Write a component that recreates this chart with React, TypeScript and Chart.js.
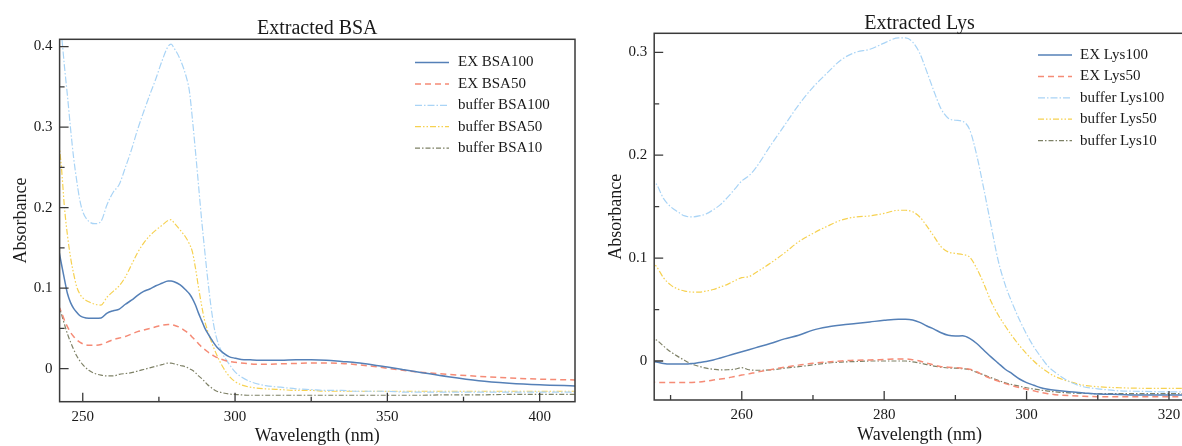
import React, { useEffect, useRef } from 'react';
import { Chart, registerables } from 'chart.js';

Chart.register(...registerables);

// ---------- Extracted BSA ----------
const bsaWavelength = [242, 243, 244, 245, 246, 247, 248, 249, 250,
  252, 254, 256, 258, 260, 262, 264, 266, 268, 270, 272, 274, 276, 278,
  279, 280, 282, 284,
  285, 286, 287, 288, 289, 290, 291, 292, 293, 294,
  296, 298, 300, 302,
  305, 310, 315, 320, 325, 330, 335, 340, 345, 350, 355, 360,
  370, 380, 390, 400, 412];
const bsaEx100 = [0.15, 0.13, 0.111, 0.093, 0.082, 0.075, 0.07, 0.066, 0.064,
  0.0625, 0.0625, 0.063, 0.069, 0.072, 0.074, 0.08, 0.085, 0.091, 0.096, 0.099, 0.103, 0.106, 0.109,
  0.109, 0.108, 0.104, 0.097,
  0.093, 0.087, 0.079, 0.069, 0.06, 0.051, 0.044, 0.038, 0.032, 0.027,
  0.02, 0.015, 0.013, 0.0115,
  0.011, 0.0105, 0.0105, 0.011, 0.011, 0.0105, 0.009, 0.0075, 0.005, 0.002, -0.001, -0.004,
  -0.01, -0.015, -0.018, -0.02, -0.0215];
const bsaEx50 = [0.078, 0.07, 0.06, 0.052, 0.045, 0.04, 0.036, 0.033, 0.031,
  0.029, 0.029, 0.03, 0.033, 0.036, 0.038, 0.04, 0.043, 0.046, 0.048, 0.05, 0.052, 0.054, 0.055,
  0.055, 0.054, 0.051, 0.046,
  0.043, 0.039, 0.035, 0.031, 0.027, 0.024, 0.021, 0.018, 0.016, 0.014,
  0.011, 0.009, 0.008, 0.007,
  0.006, 0.0055, 0.006, 0.0065, 0.007, 0.007, 0.0065, 0.005, 0.003, 0.0005, -0.002, -0.004,
  -0.007, -0.0095, -0.0115, -0.013, -0.014];
const bsaBuffer100 = [0.44, 0.415, 0.375, 0.338, 0.298, 0.262, 0.234, 0.21, 0.195,
  0.183, 0.18, 0.183, 0.204, 0.219, 0.229, 0.25, 0.272, 0.297, 0.319, 0.34, 0.36, 0.382, 0.4,
  0.403, 0.398, 0.384, 0.362,
  0.345, 0.31, 0.27, 0.228, 0.186, 0.148, 0.112, 0.08, 0.054, 0.037,
  0.018, 0.006, -0.004, -0.01,
  -0.016, -0.021, -0.023, -0.025, -0.026, -0.027, -0.027, -0.028, -0.028, -0.028, -0.029, -0.029,
  -0.029, -0.029, -0.029, -0.029, -0.029];
const bsaBuffer50 = [0.285, 0.25, 0.2, 0.165, 0.138, 0.118, 0.102, 0.093, 0.088,
  0.083, 0.08, 0.079, 0.089, 0.096, 0.103, 0.114, 0.129, 0.144, 0.156, 0.165, 0.172, 0.178, 0.184,
  0.185, 0.181, 0.172, 0.162,
  0.155, 0.145, 0.125, 0.101, 0.079, 0.06, 0.047, 0.036, 0.026, 0.017,
  0.002, -0.009, -0.016, -0.02,
  -0.023, -0.025, -0.026, -0.027, -0.027, -0.028, -0.028, -0.028, -0.028, -0.028, -0.028, -0.028,
  -0.028, -0.028, -0.028, -0.028, -0.028];
const bsaBuffer10 = [0.08, 0.068, 0.055, 0.043, 0.033, 0.024, 0.016, 0.01, 0.005,
  -0.002, -0.006, -0.008, -0.009, -0.009, -0.007, -0.006, -0.005, -0.003, -0.001, 0.001, 0.003, 0.005, 0.007,
  0.007, 0.006, 0.004, 0.002,
  0.0, -0.002, -0.005, -0.009, -0.012, -0.016, -0.02, -0.023, -0.026, -0.028,
  -0.03, -0.0315, -0.032, -0.0325,
  -0.033, -0.033, -0.033, -0.033, -0.033, -0.033, -0.033, -0.033, -0.033, -0.033, -0.033, -0.033,
  -0.0325, -0.0325, -0.032, -0.032, -0.032];
const bsaXTicks = [250, 300, 350, 400];
const bsaXMinor = [275, 325, 375];
const bsaYTicks = [0, 0.1, 0.2, 0.3, 0.4];
const bsaYMinor = [0.05, 0.15, 0.25, 0.35];
const bsaLabels = ['EX BSA100', 'EX BSA50', 'buffer BSA100', 'buffer BSA50', 'buffer BSA10'];

// ---------- Extracted Lys ----------
const lysWavelength = [247, 248, 249, 250, 251, 252, 253, 254, 255, 256, 257, 258, 259, 260, 261, 262,
  264, 266, 268, 270, 272, 274, 276, 278, 280, 282,
  283, 284, 285, 286, 287, 288, 289, 290, 291, 292, 293, 294, 295, 296, 297, 298, 299, 300, 301, 302, 303, 304,
  306, 308, 310, 313, 316, 320, 324];
const lysEx100 = [-0.0005, -0.001, -0.0025, -0.003, -0.003, -0.003, -0.0025, -0.0015, -0.0005, 0.001, 0.003, 0.005, 0.007, 0.009, 0.011, 0.013,
  0.017, 0.0215, 0.025, 0.03, 0.033, 0.035, 0.0365, 0.038, 0.0395, 0.0405,
  0.0405, 0.0398, 0.0375, 0.034, 0.031, 0.0275, 0.025, 0.0243, 0.0245, 0.022, 0.017, 0.0105, 0.004, -0.002, -0.008, -0.0125, -0.0175, -0.021, -0.0235, -0.026, -0.0275, -0.0285,
  -0.03, -0.031, -0.032, -0.0325, -0.033, -0.033, -0.033];
const lysEx50 = [-0.0205, -0.0207, -0.021, -0.021, -0.021, -0.021, -0.0208, -0.0203, -0.0195, -0.0185, -0.0175, -0.0165, -0.015, -0.0137, -0.0125, -0.011,
  -0.0085, -0.006, -0.004, -0.0022, -0.001, 0.0, 0.0008, 0.001, 0.0015, 0.002,
  0.002, 0.0012, 0.0, -0.002, -0.004, -0.0055, -0.006, -0.0065, -0.007, -0.008, -0.0105, -0.014, -0.017, -0.0195, -0.022, -0.024, -0.0258, -0.0275, -0.029, -0.0305, -0.0318, -0.0327,
  -0.0337, -0.0343, -0.0347, -0.0348, -0.0348, -0.0348, -0.0348];
const lysBuffer100 = [0.178, 0.172, 0.158, 0.15, 0.145, 0.141, 0.14, 0.141, 0.143, 0.147, 0.152, 0.159, 0.167, 0.175, 0.18, 0.188,
  0.209, 0.229, 0.249, 0.266, 0.28, 0.293, 0.3, 0.303, 0.309, 0.314,
  0.314, 0.31, 0.299, 0.281, 0.262, 0.245, 0.236, 0.234, 0.233, 0.225, 0.2, 0.167, 0.132, 0.098, 0.074, 0.056, 0.04, 0.026, 0.014, 0.004, -0.005, -0.011,
  -0.02, -0.025, -0.027, -0.029, -0.0295, -0.03, -0.03];
const lysBuffer50 = [0.098, 0.092, 0.081, 0.074, 0.07, 0.068, 0.067, 0.067, 0.068, 0.0695, 0.072, 0.0745, 0.078, 0.081, 0.082, 0.086,
  0.095, 0.105, 0.116, 0.124, 0.131, 0.137, 0.14, 0.141, 0.1435, 0.1465,
  0.1465, 0.145, 0.14, 0.131, 0.121, 0.111, 0.106, 0.1045, 0.1035, 0.101, 0.09, 0.075, 0.058, 0.045, 0.034, 0.024, 0.015, 0.007, 0.0, -0.006, -0.011, -0.015,
  -0.02, -0.0235, -0.025, -0.026, -0.0265, -0.0266, -0.0266];
const lysBuffer10 = [0.023, 0.0205, 0.0145, 0.009, 0.0045, 0.0005, -0.003, -0.0052, -0.007, -0.008, -0.0087, -0.0085, -0.008, -0.0065, -0.0085, -0.009,
  -0.0087, -0.007, -0.0055, -0.0038, -0.002, -0.001, -0.0005, 0.0, 0.0, 0.0,
  0.0, -0.0008, -0.002, -0.0035, -0.005, -0.006, -0.0068, -0.007, -0.0075, -0.0085, -0.011, -0.0135, -0.0162, -0.0188, -0.0212, -0.023, -0.0245, -0.026, -0.0272, -0.0283, -0.0292, -0.03,
  -0.031, -0.0315, -0.0317, -0.0318, -0.0318, -0.0318, -0.0318];
const lysXTicks = [260, 280, 300, 320];
const lysXMinor = [250, 270, 290, 310];
const lysYTicks = [0, 0.1, 0.2, 0.3];
const lysYMinor = [0.05, 0.15, 0.25];
const lysLabels = ['EX Lys100', 'EX Lys50', 'buffer Lys100', 'buffer Lys50', 'buffer Lys10'];

// ---------- styles ----------
const seriesStyles = [
  { color: '#5580b7', dash: [] as number[], width: 1.5 },
  { color: '#f58b76', dash: [6, 4], width: 1.5 },
  { color: '#a9d4f6', dash: [7, 2, 1.5, 2], width: 1.2 },
  { color: '#f6d150', dash: [6, 2, 1.5, 2, 1.5, 2], width: 1.2 },
  { color: '#7e8166', dash: [5, 2, 1.5, 2], width: 1.2 },
];

const FONT = '"Liberation Serif", "Times New Roman", serif';

type PanelCfg = {
  left: number; width: number; height: number;
  title: string; titleY: number;
  wavelength: number[]; series: number[][]; labels: string[];
  xMin: number; xMax: number; yMin: number; yMax: number;
  xTicks: number[]; xMinor: number[]; yTicks: number[]; yMinor: number[];
  padTop: number; padRight: number; yWidth: number; xHeight: number;
  yTitleX: number; xTitleY: number;
  legendLineX0: number; legendLineX1: number; legendTextX: number; legendY0: number; legendStep: number;
};

const bsaPanel: PanelCfg = {
  left: 0, width: 590, height: 446,
  title: 'Extracted BSA', titleY: 29,
  wavelength: bsaWavelength, series: [bsaEx100, bsaEx50, bsaBuffer100, bsaBuffer50, bsaBuffer10], labels: bsaLabels,
  xMin: 242.4, xMax: 411.6, yMin: -0.041, yMax: 0.409,
  xTicks: bsaXTicks, xMinor: bsaXMinor, yTicks: bsaYTicks, yMinor: bsaYMinor,
  padTop: 39.3, padRight: 15, yWidth: 59.6, xHeight: 44.3,
  yTitleX: 21, xTitleY: 436.5,
  legendLineX0: 415, legendLineX1: 449, legendTextX: 458, legendY0: 62.5, legendStep: 21.4,
};

const lysPanel: PanelCfg = {
  left: 590, width: 600, height: 446,
  title: 'Extracted Lys', titleY: 23.5,
  wavelength: lysWavelength, series: [lysEx100, lysEx50, lysBuffer100, lysBuffer50, lysBuffer10], labels: lysLabels,
  xMin: 247.7, xMax: 322.25, yMin: -0.0379, yMax: 0.3185,
  xTicks: lysXTicks, xMinor: lysXMinor, yTicks: lysYTicks, yMinor: lysYMinor,
  padTop: 33.3, padRight: 5, yWidth: 64.2, xHeight: 46,
  yTitleX: 25.8, xTitleY: 435,
  legendLineX0: 448, legendLineX1: 482, legendTextX: 490, legendY0: 55, legendStep: 21.4,
};

function makeDecor(cfg: PanelCfg) {
  return {
    id: 'decor',
    afterDraw(chart: any) {
      const ctx = chart.ctx as CanvasRenderingContext2D;
      const a = chart.chartArea;
      const xs = chart.scales.x;
      const ys = chart.scales.y;
      ctx.save();
      // frame
      ctx.strokeStyle = '#3a3a3a';
      ctx.lineWidth = 1.5;
      ctx.setLineDash([]);
      ctx.strokeRect(a.left, a.top, a.right - a.left, a.bottom - a.top);
      // inward ticks
      ctx.lineWidth = 1.3;
      ctx.beginPath();
      cfg.xTicks.forEach((v) => { const p = xs.getPixelForValue(v); ctx.moveTo(p, a.bottom); ctx.lineTo(p, a.bottom - 9); });
      cfg.xMinor.forEach((v) => { const p = xs.getPixelForValue(v); ctx.moveTo(p, a.bottom); ctx.lineTo(p, a.bottom - 5); });
      cfg.yTicks.forEach((v) => { const p = ys.getPixelForValue(v); ctx.moveTo(a.left, p); ctx.lineTo(a.left + 9, p); });
      cfg.yMinor.forEach((v) => { const p = ys.getPixelForValue(v); ctx.moveTo(a.left, p); ctx.lineTo(a.left + 5, p); });
      ctx.stroke();
      // title
      ctx.fillStyle = '#1a1a1a';
      ctx.textAlign = 'center';
      ctx.textBaseline = 'middle';
      ctx.font = `20px ${FONT}`;
      ctx.fillText(cfg.title, (a.left + a.right) / 2, cfg.titleY);
      // axis titles
      ctx.font = `18px ${FONT}`;
      ctx.fillText('Wavelength (nm)', (a.left + a.right) / 2, cfg.xTitleY);
      ctx.save();
      ctx.translate(cfg.yTitleX, (a.top + a.bottom) / 2);
      ctx.rotate(-Math.PI / 2);
      ctx.fillText('Absorbance', 0, 0);
      ctx.restore();
      // legend
      ctx.font = `15px ${FONT}`;
      ctx.textAlign = 'left';
      chart.data.datasets.forEach((ds: any, i: number) => {
        const y = cfg.legendY0 + i * cfg.legendStep;
        ctx.strokeStyle = ds.borderColor;
        ctx.lineWidth = ds.borderWidth;
        ctx.setLineDash(ds.borderDash || []);
        ctx.beginPath();
        ctx.moveTo(cfg.legendLineX0, y);
        ctx.lineTo(cfg.legendLineX1, y);
        ctx.stroke();
        ctx.setLineDash([]);
        ctx.fillStyle = '#1a1a1a';
        ctx.fillText(ds.label, cfg.legendTextX, y);
      });
      ctx.restore();
    },
  };
}

function Panel({ cfg }: { cfg: PanelCfg }) {
  const ref = useRef<HTMLCanvasElement | null>(null);
  useEffect(() => {
    if (!ref.current) return;
    const datasets = cfg.series.map((vals, i) => ({
      label: cfg.labels[i],
      data: cfg.wavelength.map((w, j) => ({ x: w, y: vals[j] })),
      borderColor: seriesStyles[i].color,
      borderDash: seriesStyles[i].dash,
      borderWidth: seriesStyles[i].width,
      pointRadius: 0,
      fill: false,
      cubicInterpolationMode: 'monotone' as const,
    }));
    const tickFont = { family: FONT, size: 15 };
    const chart = new Chart(ref.current, {
      type: 'line',
      data: { datasets },
      options: {
        animation: false,
        responsive: false,
        devicePixelRatio: 1,
        layout: { padding: { top: cfg.padTop, right: cfg.padRight, left: 0, bottom: 0 } },
        plugins: { legend: { display: false }, title: { display: false }, tooltip: { enabled: false } },
        scales: {
          x: {
            type: 'linear',
            min: cfg.xMin,
            max: cfg.xMax,
            grid: { display: false, drawTicks: false, tickLength: 0 },
            border: { display: false },
            ticks: { font: tickFont, color: '#1a1a1a', padding: 6, autoSkip: false, maxRotation: 0, callback: (v: any) => String(v) },
            afterBuildTicks: (s: any) => { s.ticks = cfg.xTicks.map((v) => ({ value: v })); },
            afterFit: (s: any) => { s.height = cfg.xHeight; },
          },
          y: {
            type: 'linear',
            min: cfg.yMin,
            max: cfg.yMax,
            grid: { display: false, drawTicks: false, tickLength: 0 },
            border: { display: false },
            ticks: { font: tickFont, color: '#1a1a1a', padding: 7, autoSkip: false, callback: (v: any) => (v === 0 ? '0' : String(+Number(v).toFixed(2))) },
            afterBuildTicks: (s: any) => { s.ticks = cfg.yTicks.map((v) => ({ value: v })); },
            afterFit: (s: any) => { s.width = cfg.yWidth; },
          },
        },
      },
      plugins: [makeDecor(cfg)],
    } as any);
    return () => chart.destroy();
  }, [cfg]);
  return (
    <canvas
      ref={ref}
      width={cfg.width}
      height={cfg.height}
      style={{ position: 'absolute', left: cfg.left, top: 0, width: cfg.width, height: cfg.height }}
    />
  );
}

export default function App() {
  return (
    <div style={{ position: 'fixed', left: 0, top: 0, width: 1182, height: 446, overflow: 'hidden', background: '#ffffff' }}>
      <Panel cfg={bsaPanel} />
      <Panel cfg={lysPanel} />
    </div>
  );
}
